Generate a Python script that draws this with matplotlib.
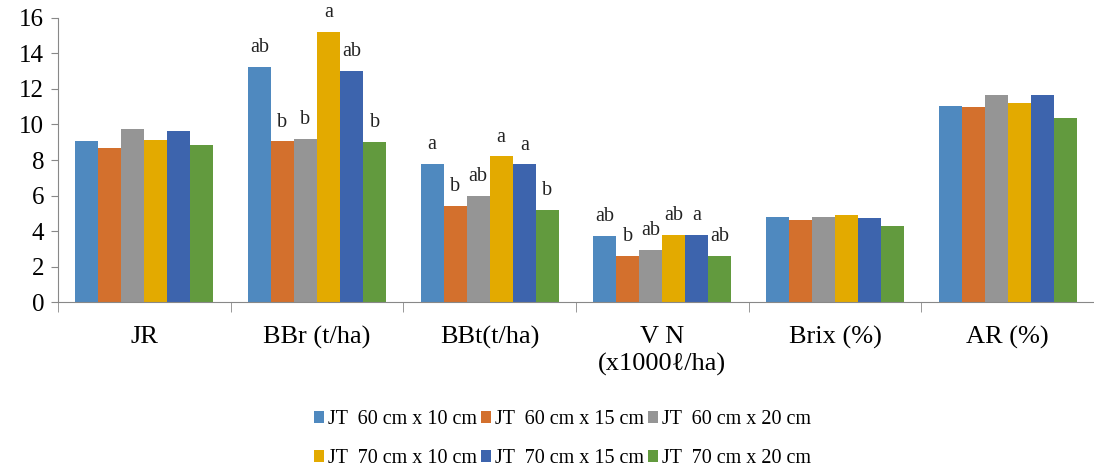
import numpy as np
import matplotlib.pyplot as plt

plt.rcParams["font.family"] = ["Liberation Serif", "DejaVu Serif"]

CATEGORIES = ["JR", "BBr (t/ha)", "BBt(t/ha)", "V N\n(x1000ℓ/ha)", "Brix (%)", "AR (%)"]
SERIES = [
    "JT  60 cm x 10 cm",
    "JT  60 cm x 15 cm",
    "JT  60 cm x 20 cm",
    "JT  70 cm x 10 cm",
    "JT  70 cm x 15 cm",
    "JT  70 cm x 20 cm",
]
COLORS = ["#4F89BF", "#D3702D", "#959595", "#E3AA00", "#3D64AD", "#629A3E"]

s60_10 = [9.05, 13.25, 7.8, 3.75, 4.8, 11.05]
s60_15 = [8.7, 9.05, 5.4, 2.6, 4.6, 11.0]
s60_20 = [9.75, 9.2, 6.0, 2.95, 4.8, 11.65]
s70_10 = [9.1, 15.2, 8.2, 3.8, 4.9, 11.2]
s70_15 = [9.65, 13.0, 7.75, 3.8, 4.75, 11.65]
s70_20 = [8.85, 9.0, 5.2, 2.6, 4.3, 10.35]
VALUES = [s60_10, s60_15, s60_20, s70_10, s70_15, s70_20]

# significance letters per category index -> one letter per series
LETTERS = {
    1: ["ab", "b", "b", "a", "ab", "b"],
    2: ["a", "b", "ab", "a", "a", "b"],
    3: ["ab", "b", "ab", "ab", "a", "ab"],
}


def main() -> None:
    fig = plt.figure(figsize=(10.94, 4.70), dpi=100)
    ax = fig.add_axes([0.053, 0.357, 0.947, 0.605])

    x = np.arange(len(CATEGORIES))
    n = len(SERIES)
    width = 0.8 / n
    bars = []
    for i, (label, vals, color) in enumerate(zip(SERIES, VALUES, COLORS)):
        pos = x - 0.4 + width * (i + 0.5)
        bars.append(ax.bar(pos, vals, width, color=color, label=label))
        for c, letters in LETTERS.items():
            ax.text(pos[c], vals[c] + 0.55, letters[i], ha="center", va="bottom",
                    fontsize=14.5, color="#222222")

    ax.set_xlim(-0.5, len(CATEGORIES) - 0.5)
    ax.set_ylim(0, 16)
    ax.set_yticks(range(0, 17, 2))
    ax.tick_params(axis="y", labelsize=18, length=5, color="#888888", pad=5)

    ax.set_xticks(x)
    ax.set_xticklabels(CATEGORIES, fontsize=19, linespacing=1.3)
    ax.tick_params(axis="x", length=0, pad=17)
    ax.set_xticks(np.arange(-0.5, len(CATEGORIES), 1.0), minor=True)
    ax.tick_params(axis="x", which="minor", length=7, color="#888888", direction="out")

    for side in ["top", "right"]:
        ax.spines[side].set_visible(False)
    ax.spines["left"].set_color("#888888")
    ax.spines["bottom"].set_color("#888888")

    # legend is filled row by row in the reference
    order = [0, 3, 1, 4, 2, 5]
    fig.legend([bars[k] for k in order], [SERIES[k] for k in order],
               loc="lower center", bbox_to_anchor=(0.514, -0.035), ncol=3,
               frameon=False, fontsize=14.5, handlelength=0.5, handleheight=0.5,
               handletextpad=0.2, columnspacing=0.2, labelspacing=1.0)

    fig.savefig("out.png", dpi=100)
    plt.close(fig)


if __name__ == "__main__":
    main()
